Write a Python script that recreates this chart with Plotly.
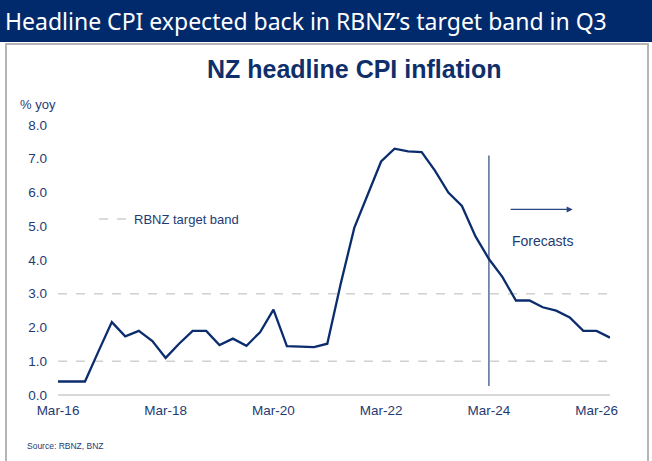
import plotly.graph_objects as go
import pandas as pd

# ---------------- data ----------------
quarters = pd.date_range("2016-03-31", periods=42, freq="QE")
cpi = [0.4, 0.4, 0.4, 1.3,
       2.16, 1.74, 1.9, 1.6,
       1.1, 1.52, 1.9, 1.9,
       1.48, 1.67, 1.46, 1.86,
       2.53, 1.45, 1.43, 1.42,
       1.52, 3.3, 4.95, 5.92,
       6.92, 7.3, 7.22, 7.2,
       6.65, 6.0, 5.6, 4.7,
       4.03, 3.5, 2.8, 2.8,
       2.6, 2.5, 2.3, 1.9,
       1.9, 1.7]
band_low, band_high = 1.0, 3.0
tick_dates = ["2016-03-31", "2018-03-31", "2020-03-31", "2022-03-31", "2024-03-31", "2026-03-31"]
tick_labels = ["Mar-16", "Mar-18", "Mar-20", "Mar-22", "Mar-24", "Mar-26"]
y_ticks = [0, 1, 2, 3, 4, 5, 6, 7, 8]
forecast_start = "2024-03-31"
forecast_line_y = [0.27, 7.1]

# ---------------- styling ----------------
W, H = 652, 461
L, R, T, B = 58, 42, 125, 66
PW, PH = W - L - R, H - T - B
NAVY = "#0b2d6e"
TXT = "#1f3b73"
HEADER = "#002a6c"


def px(x):
    return (x - L) / PW


def py(y):
    return (H - B - y) / PH


x0, x1 = quarters[0], quarters[-1]

fig = go.Figure()

# target band
fig.add_trace(go.Scatter(
    x=[x0, x1, None, x0, x1],
    y=[band_low, band_low, None, band_high, band_high],
    mode="lines", line=dict(color="#d0d0d0", width=1.5, dash="dash"),
    name="RBNZ target band", showlegend=True, hoverinfo="skip"))

# forecast divider
fig.add_trace(go.Scatter(
    x=[forecast_start, forecast_start], y=forecast_line_y,
    mode="lines", line=dict(color="#3a5488", width=1.3),
    showlegend=False, hoverinfo="skip"))

# CPI
fig.add_trace(go.Scatter(
    x=quarters, y=cpi, mode="lines",
    line=dict(color=NAVY, width=2.3),
    showlegend=False, name="CPI"))

shapes = [
    # header band
    dict(type="rect", xref="paper", yref="paper",
         x0=px(0), x1=px(W), y0=py(0), y1=py(42),
         fillcolor=HEADER, line=dict(width=0), layer="below"),
    # frame
    dict(type="rect", xref="paper", yref="paper",
         x0=px(6), x1=px(648), y0=py(44), y1=py(470),
         line=dict(color="#b5b5b5", width=2), fillcolor="rgba(0,0,0,0)", layer="below"),
]

annotations = [
    dict(text="Headline CPI expected back in RBNZ’s target band in Q3",
         xref="paper", yref="paper", x=px(3), y=py(21), xanchor="left", yanchor="middle",
         showarrow=False, font=dict(family="Noto Sans", size=23, color="white")),
    dict(text="<b>NZ headline CPI inflation</b>",
         xref="paper", yref="paper", x=px(354), y=py(69), xanchor="center", yanchor="middle",
         showarrow=False, font=dict(family="Liberation Sans", size=25, color="#0f2f6b")),
    dict(text="% yoy",
         xref="paper", yref="paper", x=px(18), y=py(104), xanchor="left", yanchor="middle",
         showarrow=False, font=dict(family="Liberation Sans", size=13, color=TXT)),
    dict(text="Source: RBNZ, BNZ",
         xref="paper", yref="paper", x=px(25), y=py(446), xanchor="left", yanchor="middle",
         showarrow=False, font=dict(family="Liberation Sans", size=8.5, color=TXT)),
    dict(text="Forecasts",
         xref="x", yref="y", x="2024-08-20", y=4.57, xanchor="left", yanchor="middle",
         showarrow=False, font=dict(family="Liberation Sans", size=14, color=TXT)),
    dict(text="", xref="x", yref="y", x="2025-10-20", y=5.5,
         axref="x", ayref="y", ax="2024-08-15", ay=5.5,
         showarrow=True, arrowhead=2, arrowsize=1, arrowwidth=1.2, arrowcolor="#2a4680"),
]

fig.update_layout(
    width=W, height=H, autosize=False,
    margin=dict(l=L, r=R, t=T, b=B),
    paper_bgcolor="white", plot_bgcolor="white",
    font=dict(family="Liberation Sans", color=TXT),
    shapes=shapes, annotations=annotations,
    showlegend=True,
    legend=dict(x=px(94), y=py(219), xanchor="left", yanchor="middle",
                bgcolor="rgba(0,0,0,0)", borderwidth=0,
                font=dict(family="Liberation Sans", size=13, color=TXT),
                itemwidth=30),
    xaxis=dict(type="date", range=[x0, x1], tickvals=tick_dates, ticktext=tick_labels,
               showgrid=False, zeroline=False, showline=False, ticks="",
               tickfont=dict(size=13.5, color=TXT), ticklabelstandoff=5),
    yaxis=dict(range=[0, 8], tickvals=y_ticks, tickformat=".1f",
               showgrid=False, zeroline=True, zerolinecolor="#d9d9d9", zerolinewidth=1.5,
               showline=False, ticks="",
               tickfont=dict(size=13.5, color=TXT), ticklabelstandoff=10),
)

fig.write_html("out.html")
